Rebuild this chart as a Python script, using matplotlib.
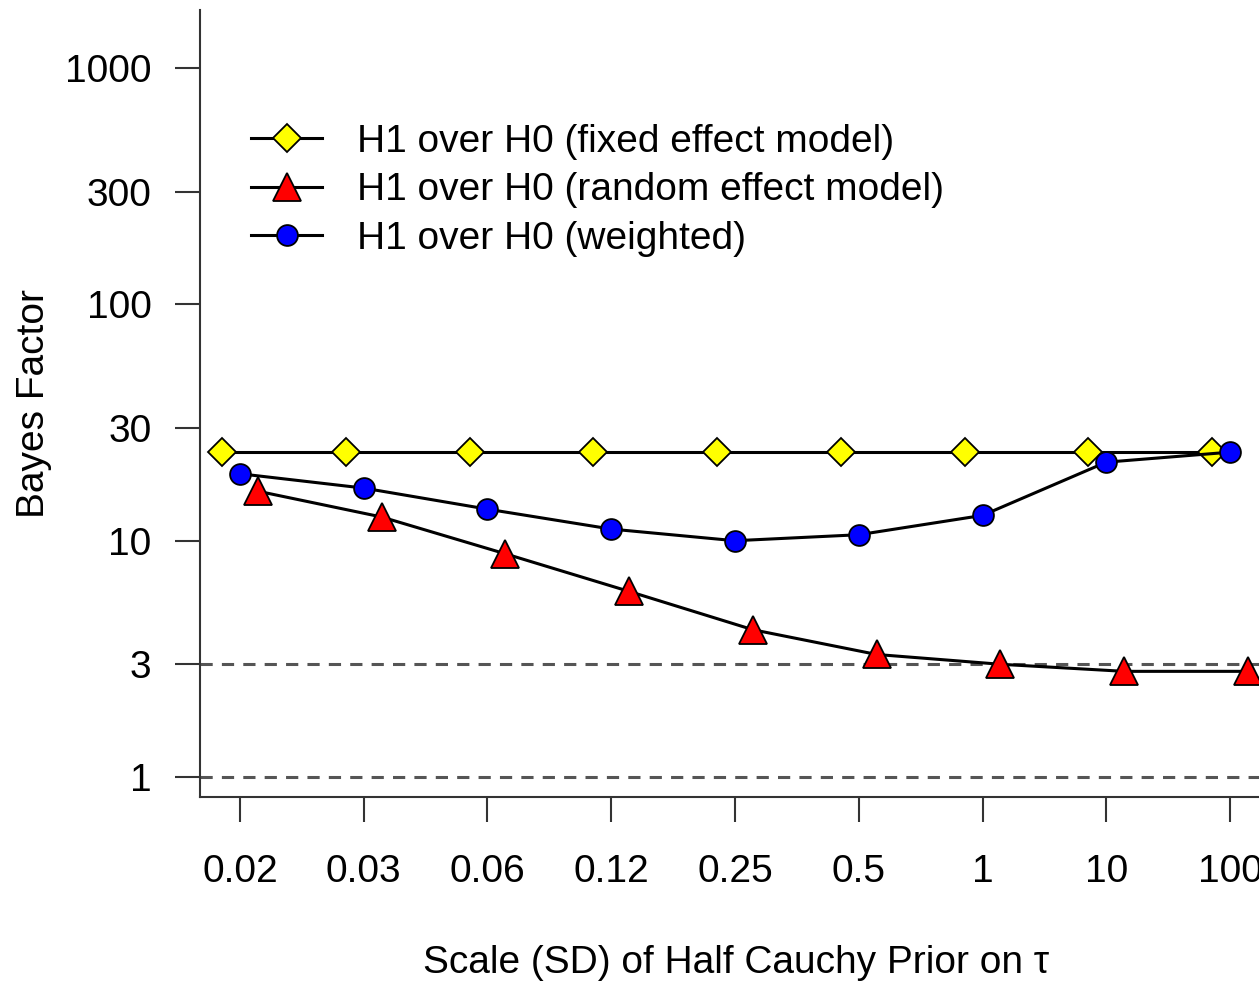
import numpy as np
import matplotlib.pyplot as plt

plt.rcParams['font.family'] = ['Liberation Sans', 'DejaVu Sans']

# Prior scale categories and Bayes factors
scales = ["0.02", "0.03", "0.06", "0.12", "0.25", "0.5", "1", "10", "100"]
bf_fixed = [23.7, 23.7, 23.7, 23.7, 23.7, 23.7, 23.7, 23.7, 23.7]
bf_random = [16.2, 12.6, 8.8, 6.1, 4.2, 3.3, 3.0, 2.8, 2.8]
bf_weighted = [19.2, 16.7, 13.6, 11.2, 10.0, 10.6, 12.8, 21.5, 23.7]

y_ticks = [1, 3, 10, 30, 100, 300, 1000]

x = np.arange(1, len(scales) + 1)
off = 0.145

fig = plt.figure(figsize=(12.59, 9.81), dpi=100)
ax = fig.add_axes([200 / 1259, 184 / 981, 1072 / 1259, 787 / 981])

ax.axhline(1, color='#555555', lw=2.2, ls=(0, (4, 3)), zorder=1)
ax.axhline(3, color='#555555', lw=2.2, ls=(0, (4, 3)), zorder=1)

ax.plot(x - off, bf_fixed, color='black', lw=2.2, marker='D', ms=14,
        mfc='#ffff00', mec='black', mew=1.3, label='H1 over H0 (fixed effect model)', zorder=3)
ax.plot(x + off, bf_random, color='black', lw=2.2, marker='^', ms=20,
        mfc='#ff0000', mec='black', mew=1.3, label='H1 over H0 (random effect model)', zorder=4)
ax.plot(x, bf_weighted, color='black', lw=2.2, marker='o', ms=15,
        mfc='#0000ff', mec='black', mew=1.3, label='H1 over H0 (weighted)', zorder=5)

ax.set_yscale('log')
ax.set_ylim(0.823, 1762)
ax.set_xlim(0.677, 9.339)
ax.set_yticks(y_ticks)
ax.set_yticklabels([str(v) for v in y_ticks])
ax.minorticks_off()
ax.set_xticks(x)
ax.set_xticklabels(scales)

for s in ['top', 'right']:
    ax.spines[s].set_visible(False)
for s in ['left', 'bottom']:
    ax.spines[s].set_linewidth(1.5)
    ax.spines[s].set_color('#333333')

ax.tick_params(axis='both', direction='out', length=18, width=1.5, color='#333333', labelsize=28)
ax.tick_params(axis='y', pad=17)
ax.tick_params(axis='x', pad=23)

ax.set_ylabel('Bayes Factor', fontsize=28)
ax.yaxis.set_label_coords(-0.138, 0.5)
ax.set_xlabel('Scale (SD) of Half Cauchy Prior on τ', fontsize=28)
ax.xaxis.set_label_coords(0.5, -0.188)

ax.legend(loc='upper left', bbox_to_anchor=(0.029, 0.88), frameon=False, fontsize=28,
          handlelength=1.85, handletextpad=0.9, labelspacing=0.32, borderpad=0)

plt.savefig("out.png", dpi=100)
